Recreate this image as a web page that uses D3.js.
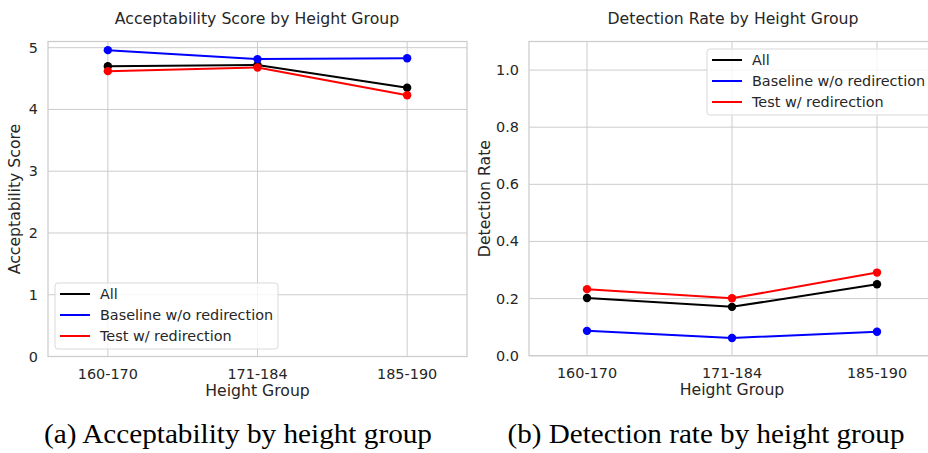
<!DOCTYPE html>
<html>
<head>
<meta charset="utf-8">
<script src="https://cdn.jsdelivr.net/npm/d3@7"></script>
<style>
  body { margin: 0; background: #fff; }
  svg text { font-family: "DejaVu Sans", sans-serif; fill: #262626; }
  .caption { font-family: "Palatino Linotype", "Book Antiqua", Palatino, "Liberation Serif", serif; fill: #000; }
</style>
</head>
<body>
<div id="chart"></div>
<script>
// categories (x axis)
const groups = ["160-170", "171-184", "185-190"];
const seriesNames = ["All", "Baseline w/o redirection", "Test w/ redirection"];
const seriesColors = ["#000000", "#0000ff", "#ff0000"];

// acceptability score by height group
const accAll = [4.70, 4.72, 4.35];
const accBaseline = [4.96, 4.815, 4.83];
const accTest = [4.62, 4.68, 4.23];
const accTicks = [0, 1, 2, 3, 4, 5];

// detection rate by height group
const detAll = [0.202, 0.171, 0.250];
const detBaseline = [0.087, 0.062, 0.084];
const detTest = [0.233, 0.201, 0.291];
const detTicks = [0, 0.2, 0.4, 0.6, 0.8, 1.0];

const W = 928, H = 453;
const gridColor = "#cccccc";
const tickSize = "14.4px", labelSize = "15.7px";

const svg = d3.select("#chart")
  .append("svg")
  .attr("width", W)
  .attr("height", H);

//draw one panel
function panel(opt) {
  const x = d3.scaleLinear().domain([-0.4, 2.4]).range([opt.left, opt.right]);
  const y = d3.scaleLinear().domain(opt.ydomain).range([opt.bottom, opt.top]);
  const g = svg.append("g");

  // grid
  g.selectAll(".vgrid").data(groups).enter().append("line")
    .attr("x1", (d, i) => x(i)).attr("x2", (d, i) => x(i))
    .attr("y1", opt.top).attr("y2", opt.bottom)
    .attr("stroke", gridColor).attr("stroke-width", 1);
  g.selectAll(".hgrid").data(opt.ticks).enter().append("line")
    .attr("x1", opt.left).attr("x2", opt.right)
    .attr("y1", (d) => y(d)).attr("y2", (d) => y(d))
    .attr("stroke", gridColor).attr("stroke-width", 1);

  // frame
  g.append("rect")
    .attr("x", opt.left).attr("y", opt.top)
    .attr("width", opt.right - opt.left).attr("height", opt.bottom - opt.top)
    .attr("fill", "none").attr("stroke", gridColor).attr("stroke-width", 1.25);

  // y tick labels
  g.selectAll(".ytick").data(opt.ticks).enter().append("text")
    .attr("x", opt.left - 10).attr("y", (d) => y(d))
    .attr("dy", "0.35em").attr("text-anchor", "end")
    .style("font-size", tickSize)
    .text((d) => opt.fmt(d));

  // x tick labels
  g.selectAll(".xtick").data(groups).enter().append("text")
    .attr("x", (d, i) => x(i)).attr("y", opt.bottom + 22)
    .attr("text-anchor", "middle")
    .style("font-size", tickSize)
    .text((d) => d);

  // axis labels + title
  g.append("text")
    .attr("x", (opt.left + opt.right) / 2).attr("y", opt.bottom + 39)
    .attr("text-anchor", "middle").style("font-size", labelSize)
    .text("Height Group");
  g.append("text")
    .attr("transform", `translate(${opt.ylabelX},${(opt.top + opt.bottom) / 2})rotate(-90)`)
    .attr("text-anchor", "middle").style("font-size", labelSize)
    .text(opt.ylabel);
  g.append("text")
    .attr("x", opt.titleX).attr("y", 24)
    .attr("text-anchor", "middle").style("font-size", labelSize)
    .text(opt.title);

  // lines + markers
  const line = d3.line().x((d, i) => x(i)).y((d) => y(d));
  opt.series.forEach((s, k) => {
    g.append("path").datum(s)
      .attr("d", line).attr("fill", "none")
      .attr("stroke", seriesColors[k]).attr("stroke-width", 2);
    g.selectAll(".pt" + k).data(s).enter().append("circle")
      .attr("cx", (d, i) => x(i)).attr("cy", (d) => y(d))
      .attr("r", 4.2).attr("fill", seriesColors[k]);
  });

  // legend
  const lg = g.append("g").attr("transform", `translate(${opt.legend[0]},${opt.legend[1]})`);
  lg.append("rect")
    .attr("width", opt.legend[2]).attr("height", 66).attr("rx", 3)
    .attr("fill", "#fff").attr("fill-opacity", 0.8)
    .attr("stroke", "#d9d9d9").attr("stroke-width", 1);
  seriesNames.forEach((name, k) => {
    const yy = 11 + k * 21;
    lg.append("line")
      .attr("x1", 5).attr("x2", 35).attr("y1", yy).attr("y2", yy)
      .attr("stroke", seriesColors[k]).attr("stroke-width", 2);
    lg.append("text")
      .attr("x", 45).attr("y", yy).attr("dy", "0.35em")
      .style("font-size", tickSize)
      .text(name);
  });
}

panel({
  left: 48, right: 467, top: 41.5, bottom: 356.5,
  ydomain: [0, 5.1], ticks: accTicks, fmt: d3.format("d"),
  ylabel: "Acceptability Score", ylabelX: 20,
  title: "Acceptability Score by Height Group", titleX: 257,
  series: [accAll, accBaseline, accTest],
  legend: [55, 283, 223]
});

panel({
  left: 529, right: 935, top: 41.5, bottom: 355.7,
  ydomain: [0, 1.1], ticks: detTicks, fmt: d3.format(".1f"),
  ylabel: "Detection Rate", ylabelX: 490,
  title: "Detection Rate by Height Group", titleX: 733,
  series: [detAll, detBaseline, detTest],
  legend: [707, 49, 225]
});

// sub captions
svg.append("text").attr("class", "caption")
  .attr("x", 238).attr("y", 443).attr("text-anchor", "middle")
  .style("font-size", "27px")
  .attr("textLength", 388).attr("lengthAdjust", "spacingAndGlyphs")
  .text("(a) Acceptability by height group");
svg.append("text").attr("class", "caption")
  .attr("x", 706).attr("y", 443).attr("text-anchor", "middle")
  .style("font-size", "27px")
  .attr("textLength", 397).attr("lengthAdjust", "spacingAndGlyphs")
  .text("(b) Detection rate by height group");
</script>
</body>
</html>
